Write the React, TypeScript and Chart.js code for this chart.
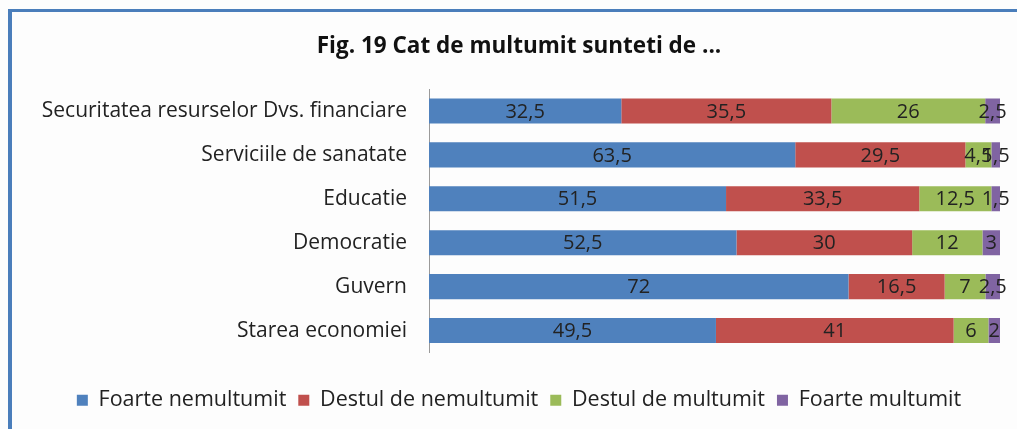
import React, { useEffect, useRef } from "react";
import { Chart, registerables } from "chart.js";

Chart.register(...registerables);

const titleText = "Fig. 19 Cat de multumit sunteti de ...";
const categories = [
  "Securitatea resurselor Dvs. financiare",
  "Serviciile de sanatate",
  "Educatie",
  "Democratie",
  "Guvern",
  "Starea economiei",
];
const seriesNames = ["Foarte nemultumit", "Destul de nemultumit", "Destul de multumit", "Foarte multumit"];
const foarteNemultumit = [32.5, 63.5, 51.5, 52.5, 72, 49.5];
const destulNemultumit = [35.5, 29.5, 33.5, 30, 16.5, 41];
const destulMultumit = [26, 4.5, 12.5, 12, 7, 6];
const foarteMultumit = [2.5, 1.5, 1.5, 3, 2.5, 2];
const seriesColors = ["#4F81BD", "#C0504D", "#9BBB59", "#8064A2"];

const FONT = "'Open Sans', sans-serif";

export default function App() {
  const ref = useRef<HTMLCanvasElement>(null);
  useEffect(() => {
    if (!ref.current) return;
    const series = [foarteNemultumit, destulNemultumit, destulMultumit, foarteMultumit];
    const totals = categories.map((_, i) => series.reduce((s, arr) => s + arr[i], 0));
    const datasets = series.map((arr, k) => ({
      label: seriesNames[k],
      data: arr.map((v, i) => (v / totals[i]) * 100),
      rawValues: arr,
      backgroundColor: seriesColors[k],
      borderWidth: 0,
      categoryPercentage: 1,
      barPercentage: 0.57,
    }));

    const labelPlugin = {
      id: "valueLabels",
      afterDatasetsDraw(chart: any) {
        const ctx = chart.ctx;
        ctx.save();
        ctx.font = `20px ${FONT}`;
        ctx.fillStyle = "#222";
        ctx.textAlign = "center";
        ctx.textBaseline = "middle";
        chart.data.datasets.forEach((ds: any, di: number) => {
          const meta = chart.getDatasetMeta(di);
          meta.data.forEach((el: any, i: number) => {
            const p = el.getCenterPoint();
            const txt = String(ds.rawValues[i]).replace(".", ",");
            ctx.fillText(txt, p.x, p.y + 1);
          });
        });
        ctx.restore();
      },
    };

    const chart = new Chart(ref.current, {
      type: "bar",
      data: { labels: categories, datasets: datasets as any },
      plugins: [labelPlugin],
      options: {
        indexAxis: "y",
        animation: false,
        responsive: false,
        layout: { padding: { left: 38, right: 17, top: 0, bottom: 8 } },
        scales: {
          x: {
            stacked: true,
            min: 0,
            max: 100,
            display: true,
            grid: { display: false, drawTicks: false },
            border: { display: false },
            ticks: { display: false },
            afterFit: (s: any) => {
              s.height = 25;
            },
          },
          y: {
            stacked: true,
            grid: { display: false, drawTicks: false },
            border: { display: true, color: "#9a9a9a", width: 1 },
            ticks: {
              color: "#222",
              font: { family: FONT, size: 21 },
              padding: 22,
            },
            afterFit: (s: any) => {
              s.width = 391;
            },
          },
        },
        plugins: {
          title: {
            display: true,
            text: titleText,
            color: "#111",
            font: { family: FONT, size: 22.5, weight: "bold" },
            padding: { top: 33, bottom: 29 },
          },
          legend: {
            position: "bottom",
            labels: {
              boxWidth: 11,
              boxHeight: 11,
              padding: 12,
              color: "#222",
              font: { family: FONT, size: 21.5 },
            },
          },
          tooltip: { enabled: false },
        },
      },
    });
    return () => chart.destroy();
  }, []);

  return (
    <div style={{ position: "absolute", left: 0, top: 0, width: 1017, height: 429, background: "#fdfdfd", overflow: "hidden" }}>
      <div
        style={{
          position: "absolute",
          left: 8,
          top: 9,
          width: 1100,
          height: 500,
          borderLeft: "4px solid #4A7EBB",
          borderTop: "3px solid #4A7EBB",
        }}
      />
      <canvas ref={ref} width={1017} height={429} style={{ position: "absolute", left: 0, top: 0 }} />
    </div>
  );
}
